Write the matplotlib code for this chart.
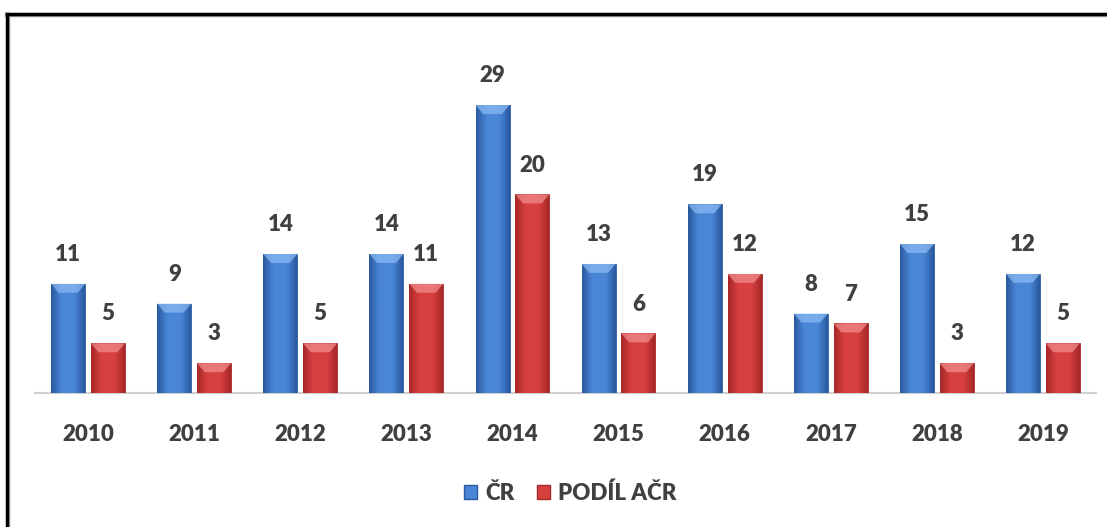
import numpy as np
import matplotlib.pyplot as plt
from matplotlib.patches import Polygon, Patch
from matplotlib.lines import Line2D
from matplotlib.colors import LinearSegmentedColormap

plt.rcParams['font.family'] = ['Lato', 'DejaVu Sans']

# Data
roky = ['2010', '2011', '2012', '2013', '2014', '2015', '2016', '2017', '2018', '2019']
cr = [11, 9, 14, 14, 29, 13, 19, 8, 15, 12]
podil_acr = [5, 3, 5, 11, 20, 6, 12, 7, 3, 5]

W, H = 1107, 527
fig = plt.figure(figsize=(W / 100, H / 100), dpi=100, facecolor='white')
ax = fig.add_axes([35 / W, (H - 393) / H, (1096 - 35) / W, (393 - 50) / H])

# Colours (dark edge, middle, light bevel)
modra = ('#2a5aa0', '#4a86d6', '#8cbcf4')
cervena = ('#a82828', '#d84040', '#f49090')
VAHA = 'heavy'

x = np.arange(len(roky))
sirka = 0.32
mezera = 0.055


def kresli_sloupce(pozice, hodnoty, barvy):
    bars = ax.bar(pozice, hodnoty, sirka, color=barvy[1], zorder=2,
                  edgecolor=barvy[0], linewidth=0.6)
    grad = np.concatenate([np.linspace(0, 1, 20), np.linspace(1, 0, 20)])
    grad = np.clip(grad * 1.6, 0, 1)
    cmap = LinearSegmentedColormap.from_list('g', [barvy[0], barvy[1]])
    for b in bars:
        x0, w, h = b.get_x(), b.get_width(), b.get_height()
        im = ax.imshow(grad[None, :], cmap=cmap, aspect='auto',
                       extent=(x0, x0 + w, 0, h), zorder=3)
        im.set_clip_path(b)
        # horni zkoseni
        bh = 0.9
        bw = w * 0.22
        tri = Polygon([(x0, h), (x0 + w, h), (x0 + w - bw, h - bh), (x0 + bw, h - bh)],
                      closed=True, facecolor=barvy[2], edgecolor='none', alpha=0.7, zorder=4)
        ax.add_patch(tri)
        ax.text(x0 + w / 2, h + 1.9, str(int(h)), ha='center', va='bottom',
                fontsize=16, fontweight=VAHA, color='#404040')
    return bars


kresli_sloupce(x - sirka / 2 - mezera / 2, cr, modra)
kresli_sloupce(x + sirka / 2 + mezera / 2, podil_acr, cervena)

ax.set_xlim(-0.5, len(roky) - 0.5)
ax.set_ylim(0, (393 - 50) / 9.93)
ax.set_xticks(x)
ax.set_xticklabels(roky, fontsize=16, fontweight=VAHA, color='#404040')
ax.tick_params(axis='x', length=0, pad=22)
ax.set_yticks([])
for s in ['top', 'right', 'left']:
    ax.spines[s].set_visible(False)
ax.spines['bottom'].set_color('#d0d0d0')
ax.spines['bottom'].set_linewidth(1.5)
ax.spines['bottom'].set_zorder(1)

handles = [Patch(facecolor=modra[1], edgecolor=modra[0]),
           Patch(facecolor=cervena[1], edgecolor=cervena[0])]
leg = fig.legend(handles, ['ČR', 'PODÍL AČR'], loc='center', ncol=2,
                 bbox_to_anchor=(570 / W, 1 - 493 / H), frameon=False,
                 handlelength=0.6, handleheight=0.6, handletextpad=0.35,
                 columnspacing=1.0, prop={'size': 16, 'weight': VAHA})
for t in leg.get_texts():
    t.set_color('#404040')

# Ramecek (viditelna horni a leva hrana)
fig.add_artist(Line2D([7 / W, 1.0], [1 - 15 / H, 1 - 15 / H], color='#999999', lw=3.2))
fig.add_artist(Line2D([8 / W, 8 / W], [0.0, 1 - 15 / H], color='#999999', lw=3.2))
fig.add_artist(Line2D([7 / W, 1.0], [1 - 14 / H, 1 - 14 / H], color='black', lw=2.4))
fig.add_artist(Line2D([7 / W, 7 / W], [0.0, 1 - 14 / H], color='black', lw=2.4))

fig.savefig('out.png', dpi=100)
